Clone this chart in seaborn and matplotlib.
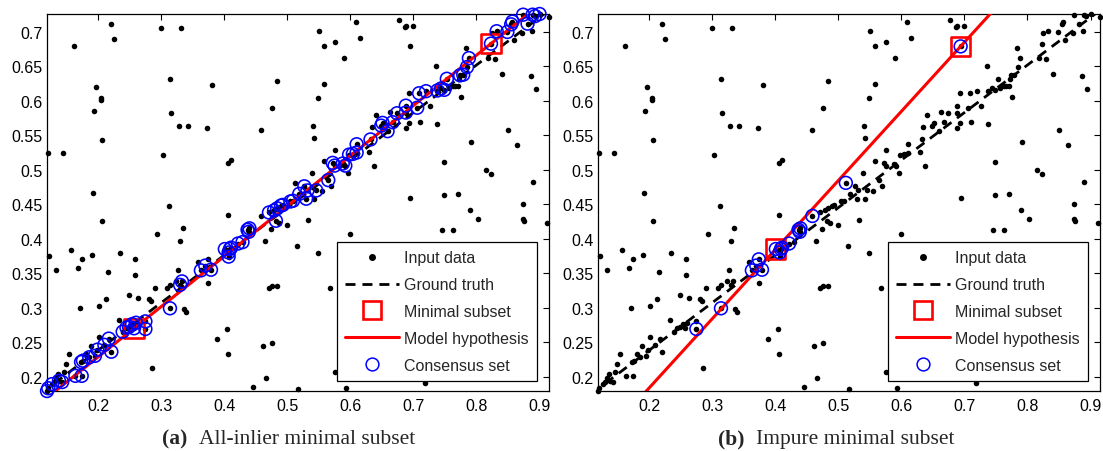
import numpy as np
import pandas as pd
import matplotlib
matplotlib.use("Agg")
import matplotlib.pyplot as plt
import seaborn as sns
from matplotlib.lines import Line2D

# ---------------- data ----------------
input_points = [
    (0.121, 0.525), (0.145, 0.525), (0.162, 0.680), (0.220, 0.711), (0.226, 0.690),
    (0.196, 0.620), (0.204, 0.604), (0.204, 0.601), (0.194, 0.585), (0.207, 0.543),
    (0.192, 0.467), (0.300, 0.705), (0.331, 0.705), (0.314, 0.631), (0.315, 0.583),
    (0.303, 0.521), (0.328, 0.563), (0.342, 0.563), (0.372, 0.560), (0.380, 0.623),
    (0.406, 0.510), (0.410, 0.514), (0.458, 0.558), (0.475, 0.590), (0.484, 0.629),
    (0.512, 0.481), (0.505, 0.454), (0.519, 0.465),
    (0.550, 0.702), (0.609, 0.715), (0.616, 0.691), (0.575, 0.686), (0.558, 0.679),
    (0.590, 0.662), (0.677, 0.717), (0.686, 0.707), (0.689, 0.708), (0.700, 0.708),
    (0.694, 0.679), (0.559, 0.624), (0.548, 0.604), (0.540, 0.564), (0.543, 0.546),
    (0.539, 0.496), (0.527, 0.476), (0.532, 0.470), (0.546, 0.470), (0.555, 0.469),
    (0.530, 0.458), (0.543, 0.457), (0.558, 0.513), (0.565, 0.485), (0.569, 0.477),
    (0.572, 0.510), (0.575, 0.506), (0.576, 0.529), (0.588, 0.509), (0.592, 0.506),
    (0.596, 0.495), (0.598, 0.522), (0.604, 0.523), (0.610, 0.537), (0.610, 0.525),
    (0.629, 0.526), (0.632, 0.544), (0.634, 0.562), (0.637, 0.506), (0.641, 0.579),
    (0.649, 0.564), (0.651, 0.568), (0.659, 0.556), (0.663, 0.584), (0.667, 0.569),
    (0.674, 0.582), (0.688, 0.593), (0.688, 0.583), (0.689, 0.560), (0.693, 0.612),
    (0.693, 0.568), (0.706, 0.590), (0.709, 0.611), (0.711, 0.569), (0.720, 0.614),
    (0.727, 0.593), (0.736, 0.651), (0.737, 0.566), (0.738, 0.615), (0.744, 0.618),
    (0.749, 0.616), (0.753, 0.632), (0.757, 0.619), (0.762, 0.621), (0.766, 0.621),
    (0.770, 0.622), (0.773, 0.631), (0.774, 0.637), (0.775, 0.605), (0.779, 0.638),
    (0.783, 0.677), (0.785, 0.649), (0.788, 0.662), (0.749, 0.511), (0.749, 0.463),
    (0.771, 0.465), (0.695, 0.459), (0.792, 0.541), (0.815, 0.499), (0.823, 0.494),
    (0.819, 0.662), (0.823, 0.683), (0.830, 0.660), (0.824, 0.699), (0.832, 0.701),
    (0.840, 0.639), (0.849, 0.700), (0.850, 0.558), (0.855, 0.711), (0.857, 0.715),
    (0.859, 0.689), (0.865, 0.536), (0.872, 0.699), (0.874, 0.725), (0.881, 0.712),
    (0.888, 0.702), (0.887, 0.636), (0.889, 0.725), (0.893, 0.723), (0.895, 0.617),
    (0.900, 0.726), (0.889, 0.482), (0.915, 0.721),
    (0.122, 0.375), (0.133, 0.355), (0.157, 0.383), (0.175, 0.370), (0.168, 0.357),
    (0.190, 0.377), (0.207, 0.426), (0.234, 0.379), (0.258, 0.371), (0.258, 0.348),
    (0.215, 0.352), (0.171, 0.299), (0.201, 0.302), (0.213, 0.312), (0.249, 0.318),
    (0.263, 0.314), (0.290, 0.328), (0.280, 0.313), (0.284, 0.309), (0.294, 0.407),
    (0.312, 0.448), (0.334, 0.416), (0.330, 0.396), (0.327, 0.354), (0.314, 0.333),
    (0.310, 0.328), (0.323, 0.339), (0.333, 0.338), (0.330, 0.333), (0.336, 0.298),
    (0.339, 0.293), (0.314, 0.299), (0.275, 0.269), (0.275, 0.280), (0.260, 0.278),
    (0.254, 0.276), (0.249, 0.272), (0.245, 0.271), (0.239, 0.265), (0.233, 0.282),
    (0.257, 0.270), (0.221, 0.236), (0.217, 0.255), (0.210, 0.246), (0.201, 0.258),
    (0.199, 0.239), (0.195, 0.230), (0.188, 0.245), (0.186, 0.228), (0.181, 0.233),
    (0.176, 0.223), (0.174, 0.201), (0.164, 0.201), (0.173, 0.221), (0.154, 0.232),
    (0.149, 0.218), (0.146, 0.206), (0.143, 0.192), (0.136, 0.204), (0.133, 0.198),
    (0.130, 0.192), (0.127, 0.189), (0.121, 0.183), (0.119, 0.179), (0.138, 0.194),
    (0.286, 0.212), (0.389, 0.254), (0.405, 0.269), (0.406, 0.233), (0.445, 0.185),
    (0.466, 0.198), (0.461, 0.245), (0.476, 0.248), (0.471, 0.328), (0.476, 0.331),
    (0.483, 0.331), (0.465, 0.397), (0.474, 0.414), (0.487, 0.423), (0.499, 0.420),
    (0.516, 0.389), (0.517, 0.182), (0.406, 0.435), (0.375, 0.335),
    (0.358, 0.366), (0.363, 0.354), (0.370, 0.361), (0.374, 0.370), (0.379, 0.355),
    (0.401, 0.385), (0.407, 0.380), (0.409, 0.385), (0.407, 0.374), (0.411, 0.387),
    (0.422, 0.393), (0.429, 0.395), (0.437, 0.413), (0.439, 0.410), (0.440, 0.415),
    (0.459, 0.433), (0.471, 0.438), (0.479, 0.441), (0.484, 0.444), (0.490, 0.448),
    (0.493, 0.449), (0.509, 0.455), (0.482, 0.426),
    (0.533, 0.427), (0.548, 0.379), (0.599, 0.407), (0.567, 0.329), (0.575, 0.206),
    (0.593, 0.184), (0.745, 0.413), (0.762, 0.413), (0.789, 0.441), (0.803, 0.429),
    (0.873, 0.450), (0.873, 0.428), (0.875, 0.425), (0.912, 0.423), (0.718, 0.190),
]

# ground-truth line  y = slope * x + intercept
gt_slope = 0.69
gt_intercept = 0.10

# minimal subsets (two sampled points) for the two panels
minimal_a_x = [0.257, 0.823]
minimal_a_y = [0.270, 0.683]
minimal_b_x = [0.401, 0.694]
minimal_b_y = [0.385, 0.679]

consensus_threshold = 0.0115  # perpendicular distance to hypothesis

caption_tags = ["(a)", "(b)"]
caption_texts = ["All-inlier minimal subset", "Impure minimal subset"]
legend_labels = ["Input data", "Ground truth", "Minimal subset",
                 "Model hypothesis", "Consensus set"]
x_ticks = [0.2, 0.3, 0.4, 0.5, 0.6, 0.7, 0.8, 0.9]
y_ticks = [0.2, 0.25, 0.3, 0.35, 0.4, 0.45, 0.5, 0.55, 0.6, 0.65, 0.7]

# ---------------- styling ----------------
sns.set_style("white")
plt.rcParams["font.family"] = ["Liberation Sans", "DejaVu Sans"]
plt.rcParams["font.size"] = 11.5

df = pd.DataFrame(input_points, columns=["x", "y"])
xmin, xmax = df["x"].min(), df["x"].max()
ymin, ymax = df["y"].min(), df["y"].max()

fig = plt.figure(figsize=(11.03, 4.52), dpi=100)
W, H = 1103.0, 452.0
axes_px = [(47, 15, 549, 392), (598, 15, 1100, 392)]
minimals = [(minimal_a_x, minimal_a_y), (minimal_b_x, minimal_b_y)]

gt_dash = (3.6, 2.5)

for i, (l, t, r, b) in enumerate(axes_px):
    ax = fig.add_axes([l / W, 1 - b / H, (r - l) / W, (b - t) / H])
    mx, my = minimals[i]
    slope = (my[1] - my[0]) / (mx[1] - mx[0])
    inter = my[0] - slope * mx[0]
    dist = np.abs(df["y"] - (slope * df["x"] + inter)) / np.sqrt(1 + slope ** 2)
    cons = df[dist < consensus_threshold]

    sns.scatterplot(data=df, x="x", y="y", color="black", s=16, linewidth=0,
                    ax=ax, zorder=2, legend=False, clip_on=False)
    xs = np.array([xmin - 0.01, xmax + 0.01])
    ax.plot(xs, gt_slope * xs + gt_intercept, color="black", lw=2.0,
            dashes=gt_dash, zorder=3)
    sns.scatterplot(x=mx, y=my, marker="s", s=190, facecolor="none",
                    edgecolor="#ff0000", linewidth=1.9, ax=ax, zorder=4, legend=False)
    ax.plot(xs, slope * xs + inter, color="#ff0000", lw=2.2, zorder=5)
    sns.scatterplot(data=cons, x="x", y="y", marker="o", s=85, facecolor="none",
                    edgecolor="#0000ff", linewidth=1.15, ax=ax, zorder=6, legend=False,
                    clip_on=False)

    ax.set_xlim(xmin, xmax)
    ax.set_ylim(ymin, ymax)
    ax.set_xticks(x_ticks)
    ax.set_yticks(y_ticks)
    ax.set_xticklabels([f"{v:g}" for v in x_ticks])
    ax.set_yticklabels([f"{v:g}" for v in y_ticks])
    ax.set_xlabel("")
    ax.set_ylabel("")
    ax.tick_params(direction="in", length=4, width=0.8, top=True, right=True,
                   labelsize=11.5, colors="black")
    ax.tick_params(axis="x", pad=5)
    ax.tick_params(axis="y", pad=3)
    for s in ax.spines.values():
        s.set_visible(True)
        s.set_color("black")
        s.set_linewidth(0.9)

    handles = [
        Line2D([], [], ls="none", marker="o", color="black", markersize=4.0),
        Line2D([], [], color="black", lw=2.0, dashes=gt_dash),
        Line2D([], [], ls="none", marker="s", markersize=13.5, markerfacecolor="none",
               markeredgecolor="#ff0000", markeredgewidth=1.9),
        Line2D([], [], color="#ff0000", lw=2.2),
        Line2D([], [], ls="none", marker="o", markersize=9.2, markerfacecolor="none",
               markeredgecolor="#0000ff", markeredgewidth=1.1),
    ]
    leg = ax.legend(handles, legend_labels, loc="lower right",
                    bbox_to_anchor=(1 - 12.3 / 502, 10.3 / 377), borderaxespad=0,
                    frameon=True, fancybox=False, framealpha=1, edgecolor="black",
                    fontsize=11.5, handlelength=3.4, handletextpad=0.3,
                    labelspacing=0.74, borderpad=0.5)
    leg.get_frame().set_linewidth(0.9)
    leg.set_zorder(10)

# ---------------- captions ----------------
renderer = fig.canvas.get_renderer()
centers = [289, 836]
base_y = 444
for tag, txt, c in zip(caption_tags, caption_texts, centers):
    t1 = fig.text(0, 0, tag, family=["Liberation Serif", "DejaVu Serif"],
                  weight="bold", fontsize=15.5, va="baseline", ha="left")
    t2 = fig.text(0, 0, txt, family=["Liberation Serif", "DejaVu Serif"],
                  fontsize=15.5, va="baseline", ha="left")
    w1 = t1.get_window_extent(renderer).width
    w2 = t2.get_window_extent(renderer).width
    gap = 15.5 * 100 / 72 * 0.55
    x0 = c - (w1 + gap + w2) / 2
    yy = 1 - base_y / H
    t1.set_position((x0 / W, yy))
    t2.set_position(((x0 + w1 + gap) / W, yy))

fig.savefig("out.png", dpi=100)
